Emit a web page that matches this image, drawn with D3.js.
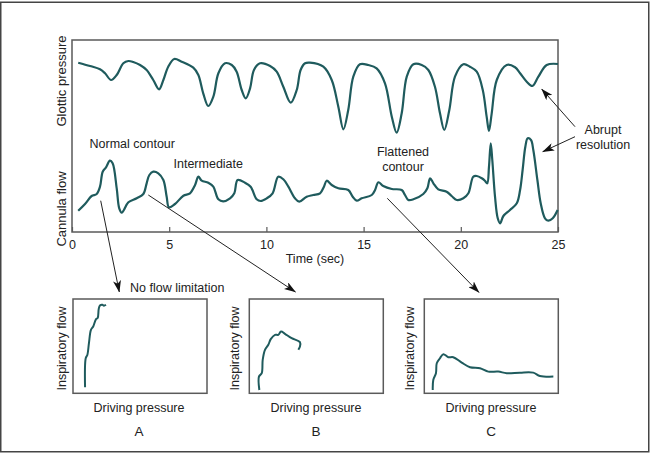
<!DOCTYPE html>
<html>
<head>
<meta charset="utf-8">
<script src="https://cdn.jsdelivr.net/npm/d3@7"></script>
<style>
  html, body { margin: 0; padding: 0; background: #fff; }
  svg { display: block; }
  text { font-family: "Liberation Sans", Arial, Helvetica, sans-serif; fill: #222; }
</style>
</head>
<body>
<svg id="chart" width="650" height="453"></svg>
<script>
// ---------- DATA ----------
// Time axis ticks (sec)
const timeTicks = [0, 5, 10, 15, 20, 25];

// Glottic pressure trace (time in s, arbitrary units)
const glotticTime = [0.32,0.93,1.44,1.70,2.01,2.30,2.64,2.90,3.15,3.50,3.84,4.18,4.48,4.70,4.95,5.26,5.64,6.24,6.50,6.75,7.01,7.27,7.53,7.87,8.22,8.47,8.73,8.94,9.16,9.36,9.67,10.19,10.53,10.87,11.25,11.56,11.76,11.99,
  12.24,12.93,13.36,13.70,13.96,14.21,14.47,14.81,15.24,15.67,16.10,16.45,16.70,16.96,17.22,17.56,17.99,18.33,18.67,18.93,19.15,19.41,19.70,20.13,20.47,20.82,21.13,21.33,21.45,21.59,21.85,22.36,22.79,23.05,23.39,23.68,23.99,24.42,25.0];
const glotticValue = [77.3,74,70.7,66.7,60,65,76.7,79,78,75,70,60,50.7,60,73.3,81,78.3,72.3,65,46.7,34,43.3,66.7,76.7,75,68.3,50,41.7,51.7,70,76.7,74,68.3,53.3,37.3,50,70,76.7,
  77.3,73.3,60,33.3,10.7,30,63.3,75.7,75,71.7,56.7,23.3,7.3,26.7,63.3,75.7,75,70,53.3,26.7,10,30,63.3,75.7,73.3,68.3,50,23.3,9,26.7,60,75,72.7,66.7,58.3,54,63.3,75,76];

// Cannula flow trace (time in s, arbitrary units)
const flowTime = [0.32,0.67,1.01,1.27,1.44,1.58,1.75,1.95,2.09,2.30,2.43,2.56,2.67,2.90,3.33,3.67,3.84,3.98,4.18,4.44,4.70,4.87,4.99,5.30,5.73,6.07,6.33,6.50,6.67,7.01,7.27,7.53,7.78,8.13,8.35,8.52,8.90,9.19,9.50,9.71,10.02,10.32,10.61,10.87,11.13,11.47,11.69,12.07,
  12.41,12.76,12.96,13.10,13.36,13.70,14.21,14.44,14.65,14.90,15.42,15.59,15.76,16.01,16.45,16.96,17.13,17.30,17.56,18.07,18.28,18.42,18.59,18.84,19.27,19.53,19.79,20.13,20.39,20.64,20.82,21.08,21.24,21.36,21.45,21.54,21.62,21.76,21.90,22.02,22.19,22.53,22.88,23.05,23.18,23.32,23.44,23.61,23.73,23.94,24.11,24.33,24.50,24.73,24.98];
const flowValue = [21.3,28,36,38,45.3,60.3,64.7,71.3,68.7,43.7,23.7,19.3,22,29.7,33.7,38,48.7,57,60.3,58.7,52,35.3,24.7,28,36.3,38.7,47,55.3,51.3,49.3,45.3,32.7,30.7,33.7,38.7,52,49.3,45.3,32.7,31,33.7,38.7,55.3,52.7,45.3,33.7,30.3,35.3,
  37,38.7,45.3,51.3,47,43.7,42,35.3,31.3,33.7,37,42,49.7,46,43,42,37,32,32.7,38,43.7,53.7,48.7,42.7,40.3,36,32,33.7,38.7,55.3,56,53.7,51.3,48.7,65.3,88.7,72,35.3,13.7,8.7,16,22,28.7,42,62,85.3,93.7,92,82,52,28.7,13.7,11.3,13.7,22];

// Flow-pressure loops (driving pressure %, inspiratory flow %)
const loopAPressure = [9.0,9.5,10.7,11.9,13.4,15.1,17.2,18.4,19.2,20.1,21.9,23.1,24.6];
const loopAFlow     = [6.4,37.2,40.7,53.2,67.3,70.9,78.7,79.8,89.4,93.2,93.9,92.9,93.9];
const loopBPressure = [7.5,7.2,9.3,10.0,11.7,14.2,16.0,19.2,21.6,23.7,26.6,31.6,37.8,37.8,36.6];
const loopBFlow     = [3.5,17.7,21.3,35.4,46.1,51.4,57.4,62.0,62.0,65.5,63.1,58.5,54.3,49.6,46.1];
const loopCPressure = [6.3,6.7,8.7,9.3,11.7,14.2,17.9,21.6,27.9,34.1,41.6,47.8,55.2,61.5,71.4,81.3,86.3,96.3];
const loopCFlow     = [3.5,14.1,21.3,31.9,37.2,41.5,38.3,38.3,32.6,27.7,26.6,23.0,23.0,21.3,21.9,21.9,18.4,17.7];

const panelLabels = ["A", "B", "C"];

// ---------- DRAWING ----------
const svg = d3.select("#chart");
const traceColor = "#1f5b5d";
const frameColor = "#5a5a5a";

// outer border
svg.append("rect").attr("x", 0.75).attr("y", 2.25).attr("width", 648).attr("height", 449.5)
  .attr("fill", "none").attr("stroke", "#444").attr("stroke-width", 1.5);

// main panel
const M = { left: 72, right: 558, top: 40, bottom: 232 };
const x = d3.scaleLinear().domain([0, 25]).range([M.left, M.right]);
const yP = d3.scaleLinear().domain([0, 100]).range([140, 40]);
const yF = d3.scaleLinear().domain([0, 100]).range([232, 132]);

svg.append("rect").attr("x", M.left).attr("y", M.top)
  .attr("width", M.right - M.left).attr("height", M.bottom - M.top)
  .attr("fill", "none").attr("stroke", frameColor).attr("stroke-width", 1.5);

const axis = d3.axisBottom(x).tickValues(timeTicks).tickSize(-5).tickPadding(8.5).tickFormat(d3.format("d"));
const ax = svg.append("g").attr("transform", `translate(0,${M.bottom})`).call(axis);
ax.select(".domain").remove();
ax.selectAll(".tick line").attr("stroke", frameColor).attr("stroke-width", 1.2);
ax.selectAll(".tick text").attr("font-size", 12.5).attr("fill", "#222")
  .attr("font-family", "'Liberation Sans', Arial, sans-serif");

const curve = d3.curveCatmullRom.alpha(0.5);

const pLine = d3.line().x(d => x(d[0])).y(d => yP(d[1])).curve(curve);
svg.append("path").datum(d3.zip(glotticTime, glotticValue))
  .attr("d", pLine).attr("fill", "none").attr("stroke", traceColor).attr("stroke-width", 2.2)
  .attr("stroke-linejoin", "round");

const fLine = d3.line().x(d => x(d[0])).y(d => yF(d[1])).curve(curve);
svg.append("path").datum(d3.zip(flowTime, flowValue))
  .attr("d", fLine).attr("fill", "none").attr("stroke", traceColor).attr("stroke-width", 2.2)
  .attr("stroke-linejoin", "round");

// axis labels
function label(txt, px, py, size, opts = {}) {
  const t = svg.append("text").attr("x", px).attr("y", py).attr("font-size", size)
    .attr("text-anchor", opts.anchor || "middle").text(txt);
  if (opts.rotate) t.attr("transform", `rotate(-90,${px},${py})`);
  return t;
}
label("Glottic pressure", 66, 81, 13, { rotate: true });
label("Cannula flow", 66, 209, 13, { rotate: true });
label("Time (sec)", 315, 263, 12.5);

label("Normal contour", 89.5, 148, 12.5, { anchor: "start" });
label("Intermediate", 173.5, 167.5, 12.5, { anchor: "start" });
label("Flattened", 403, 156, 12.5);
label("contour", 403, 170.5, 12.5);
label("Abrupt", 603, 133.5, 12.5);
label("resolution", 603, 148.5, 12.5);
label("No flow limitation", 130, 291.5, 12.5, { anchor: "start" });

// arrows
const defs = svg.append("defs");
defs.append("marker").attr("id", "ah").attr("viewBox", "0 0 12 8").attr("refX", 11.5).attr("refY", 4)
  .attr("markerWidth", 12).attr("markerHeight", 8).attr("markerUnits", "userSpaceOnUse")
  .attr("orient", "auto")
  .append("path").attr("d", "M0,0 L12,4 L0,8 L3,4 Z").attr("fill", "#111");

const arrows = [
  [[100.7, 200.7], [119.3, 292]],
  [[148.3, 195], [295.5, 292]],
  [[387.3, 198.3], [479, 292.5]],
  [[575, 126.7], [541.7, 89]],
  [[575, 136.7], [542.7, 151.7]]
];
arrows.forEach(a => {
  svg.append("line").attr("x1", a[0][0]).attr("y1", a[0][1]).attr("x2", a[1][0]).attr("y2", a[1][1])
    .attr("stroke", "#222").attr("stroke-width", 1).attr("marker-end", "url(#ah)");
});

// small panels
const boxes = [
  { left: 73, p: loopAPressure, f: loopAFlow, yl: 66, cx: 139 },
  { left: 249.3, p: loopBPressure, f: loopBFlow, yl: 238.5, cx: 316 },
  { left: 424.3, p: loopCPressure, f: loopCFlow, yl: 413.5, cx: 491 }
];
const bw = 134, bTop = 299, bBottom = 393.3;
boxes.forEach((b, i) => {
  const sx = d3.scaleLinear().domain([0, 100]).range([b.left, b.left + bw]);
  const sy = d3.scaleLinear().domain([0, 100]).range([bBottom, bTop]);
  svg.append("rect").attr("x", b.left).attr("y", bTop).attr("width", bw).attr("height", bBottom - bTop)
    .attr("fill", "none").attr("stroke", frameColor).attr("stroke-width", 1.5);
  const ln = d3.line().x(d => sx(d[0])).y(d => sy(d[1])).curve(curve);
  svg.append("path").datum(d3.zip(b.p, b.f)).attr("d", ln)
    .attr("fill", "none").attr("stroke", traceColor).attr("stroke-width", 2).attr("stroke-linejoin", "round");
  label("Inspiratory flow", b.yl, 348.5, 12.5, { rotate: true });
  label("Driving pressure", b.cx, 411.5, 12.5);
  label(panelLabels[i], b.cx, 436, 13.5);
});
</script>
</body>
</html>
